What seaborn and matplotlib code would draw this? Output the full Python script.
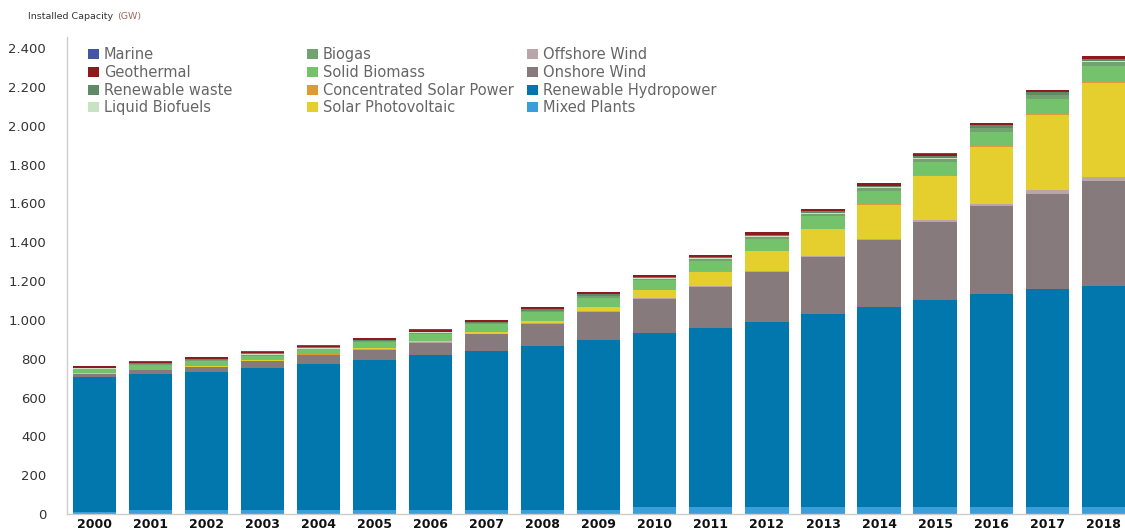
#!/usr/bin/env python3
"""Stacked bar chart of installed renewable capacity by source, 2000-2018."""
import pandas as pd
import matplotlib.pyplot as plt
from matplotlib.patches import Patch
from matplotlib.ticker import FuncFormatter
import seaborn as sns

years = list(range(2000, 2019))

# values in GW
mixed_plants = [12, 20, 20, 20, 20, 20, 20, 20, 20, 20, 35, 37, 37, 37, 37, 37, 37, 37, 37]
hydropower = [694, 700, 710, 732, 751, 775, 797, 821, 847, 877, 898, 922, 951, 994, 1031, 1065, 1096, 1122, 1139]
onshore_wind = [17, 22, 29, 36, 46, 52, 66, 86, 114, 145, 175, 213, 260, 292, 342, 403, 452, 492, 540]
offshore_wind = [0.1, 0.2, 0.3, 0.5, 0.6, 0.7, 0.9, 1.1, 1.5, 2, 3, 4, 5, 7, 9, 12, 14.5, 19, 23]
solar_pv = [1, 1.2, 2.2, 2.8, 4, 5.5, 7, 9, 14, 23, 41, 72, 100, 137, 172, 223, 292, 388, 484]
csp = [0.4, 0.4, 0.4, 0.4, 0.4, 0.4, 0.4, 0.5, 0.5, 0.7, 1.3, 1.8, 2.5, 3.4, 4.5, 4.8, 5, 5, 5.5]
solid_biomass = [22, 25, 27, 25, 26, 33, 38, 39, 42, 46, 50, 53, 60, 63, 68, 70, 74, 76, 82]
biogas = [3, 3.5, 4, 4.5, 4.5, 4.5, 5, 6, 7, 8, 9, 11, 13, 14.5, 16, 17, 18, 19, 19.5]
liquid_biofuels = [1, 1, 1.2, 1.5, 1.5, 1.5, 1.5, 2, 2.5, 3, 3, 3, 3, 3, 3, 3, 3, 3, 3]
renewable_waste = [4, 4.5, 5, 5.5, 4, 5, 4.5, 5, 6, 6.5, 7, 8, 8.5, 9, 9.5, 10, 10.5, 11, 12]
geothermal = [8, 8, 8.5, 9, 9, 9.5, 10, 10, 10.5, 10.5, 10.5, 11, 11, 11.5, 12, 12.5, 13, 13.5, 14]
marine = [0.5, 0.5, 0.5, 0.5, 6, 0.5, 0.5, 0.5, 2, 0.5, 0.5, 0.5, 0.5, 0.5, 3, 0.5, 0.5, 0.5, 0.5]

# top of the stack first (seaborn stacks the first hue level on top)
series = {
    "Marine": marine,
    "Geothermal": geothermal,
    "Renewable waste": renewable_waste,
    "Liquid Biofuels": liquid_biofuels,
    "Biogas": biogas,
    "Solid Biomass": solid_biomass,
    "Concentrated Solar Power": csp,
    "Solar Photovoltaic": solar_pv,
    "Offshore Wind": offshore_wind,
    "Onshore Wind": onshore_wind,
    "Renewable Hydropower": hydropower,
    "Mixed Plants": mixed_plants,
}
colors = {
    "Marine": "#4356a6",
    "Geothermal": "#8e1a1e",
    "Renewable waste": "#5f8a63",
    "Liquid Biofuels": "#c6e4c1",
    "Biogas": "#72a270",
    "Solid Biomass": "#74c26c",
    "Concentrated Solar Power": "#e09a33",
    "Solar Photovoltaic": "#e5cf2e",
    "Offshore Wind": "#b8a6a9",
    "Onshore Wind": "#877a7c",
    "Renewable Hydropower": "#0277ae",
    "Mixed Plants": "#3a9fd9",
}
order = list(series.keys())

df = pd.DataFrame(
    [(y, name, v) for name, vals in series.items() for y, v in zip(years, vals)],
    columns=["year", "source", "gw"],
)

sns.set_style("white")
plt.rcParams["font.family"] = ["DejaVu Sans"]

fig = plt.figure(figsize=(11.25, 5.31), dpi=100)
ax = fig.add_axes([0.0596, 0.032, 0.9404, 0.898])

sns.histplot(
    data=df, x="year", weights="gw", hue="source", hue_order=order,
    multiple="stack", discrete=True, shrink=0.77, palette=colors,
    alpha=1, linewidth=0, legend=False, ax=ax,
)

ax.set_xlim(years[0] - 0.49, years[-1] + 0.39)
ax.set_ylim(0, 2457)
ax.set_xticks(years)
ax.set_xticklabels([str(y) for y in years], fontsize=9, fontweight="bold", color="#111111")
ax.set_yticks(range(0, 2401, 200))
ax.yaxis.set_major_formatter(FuncFormatter(lambda v, _: f"{int(v):,}".replace(",", ".")))
ax.tick_params(axis="y", labelsize=9.5, labelcolor="#333333", length=0, pad=15)
ax.tick_params(axis="x", length=0, pad=3)
ax.set_xlabel("")
ax.set_ylabel("")
ax.grid(False)
for side in ["top", "right"]:
    ax.spines[side].set_visible(False)
for side in ["left", "bottom"]:
    ax.spines[side].set_color("#cccccc")
    ax.spines[side].set_linewidth(1)

# three fixed-width legend columns
columns = [order[0:4], order[4:8], order[8:12]]
col_x = [0.0198, 0.2268, 0.4348]
for i, (names, x) in enumerate(zip(columns, col_x)):
    handles = [Patch(facecolor=colors[n], edgecolor="none", label=n) for n in names]
    leg = ax.legend(
        handles=handles, loc="upper left", bbox_to_anchor=(x, 0.979),
        frameon=False, fontsize=10.5, labelcolor="#666666",
        handlelength=0.75, handleheight=0.7, handletextpad=0.35,
        labelspacing=0.19, borderpad=0, borderaxespad=0,
    )
    if i < len(columns) - 1:
        ax.add_artist(leg)

fig.text(28 / 1125, 1 - 16.5 / 531, "Installed Capacity", fontsize=6.8,
         color="#333333", va="center", ha="left")
fig.text(117 / 1125, 1 - 16.5 / 531, "(GW)", fontsize=6.8,
         color="#9a6a64", va="center", ha="left")

fig.savefig("out.png", dpi=100)
